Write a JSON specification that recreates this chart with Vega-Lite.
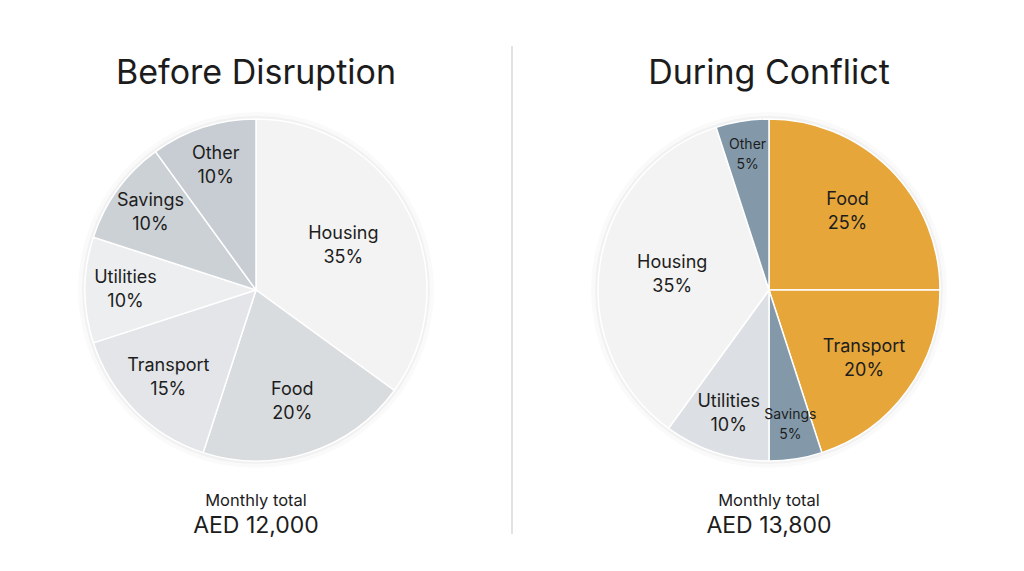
{
  "$schema": "https://vega.github.io/schema/vega-lite/v6.json",
  "background": "#ffffff",
  "padding": {"top": 45, "left": 0, "right": 0, "bottom": 0},
  "spacing": 0,
  "config": {
    "view": {"stroke": null},
    "font": "Inter"
  },
  "resolve": {"scale": {"color": "independent", "theta": "independent", "radius": "independent"}},
  "hconcat": [
    {
      "width": 512,
      "height": 488,
      "data": {"values": [
        {"category": "Housing", "share": 0.35, "rank": 1},
        {"category": "Food", "share": 0.20, "rank": 2},
        {"category": "Transport", "share": 0.15, "rank": 3},
        {"category": "Utilities", "share": 0.10, "rank": 4},
        {"category": "Savings", "share": 0.10, "rank": 5},
        {"category": "Other", "share": 0.10, "rank": 6}
      ]},
      "layer": [
        {
          "data": {"values": [{"total": "AED 12,000"}]},
          "mark": {"type": "arc", "theta": 0, "theta2": 6.2832, "outerRadius": 178, "fill": "#000000", "opacity": 0.02},
          "encoding": {}
        },
        {
          "data": {"values": [{"total": "AED 12,000"}]},
          "mark": {"type": "arc", "theta": 0, "theta2": 6.2832, "outerRadius": 174, "fill": "#000000", "opacity": 0.035},
          "encoding": {}
        },
        {
          "mark": {"type": "arc", "outerRadius": 171, "stroke": "#ffffff", "strokeWidth": 1.5},
          "encoding": {
            "theta": {"field": "share", "type": "quantitative", "stack": true},
            "order": {"field": "rank", "type": "quantitative"},
            "color": {
              "field": "category", "type": "nominal", "legend": null,
              "scale": {
                "domain": ["Housing", "Food", "Transport", "Utilities", "Savings", "Other"],
                "range": ["#f3f3f3", "#d9dcdf", "#e3e5e8", "#eceef0", "#ccd1d6", "#c7cdd3"]
              }
            }
          }
        },
        {
          "mark": {"type": "text", "baseline": "bottom", "dy": -3, "color": "#1d1d1d", "font": "Inter"},
          "encoding": {
            "theta": {"field": "share", "type": "quantitative", "stack": true},
            "order": {"field": "rank", "type": "quantitative"},
            "radius": {"field": "share", "type": "quantitative", "scale": {"type": "linear", "domain": [0.05, 0.35], "range": [137, 98], "zero": false}},
            "text": {"field": "category", "type": "nominal"},
            "size": {"condition": {"test": "datum.share <= 0.05", "value": 14}, "value": 18}
          }
        },
        {
          "mark": {"type": "text", "baseline": "top", "dy": 3, "color": "#1d1d1d", "font": "Inter"},
          "encoding": {
            "theta": {"field": "share", "type": "quantitative", "stack": true},
            "order": {"field": "rank", "type": "quantitative"},
            "radius": {"field": "share", "type": "quantitative", "scale": {"type": "linear", "domain": [0.05, 0.35], "range": [137, 98], "zero": false}},
            "text": {"field": "share", "type": "quantitative", "format": ".0%"},
            "size": {"condition": {"test": "datum.share <= 0.05", "value": 14}, "value": 18}
          }
        },
        {
          "data": {"values": [{"heading": "Before Disruption", "caption": "Monthly total", "total": "AED 12,000"}]},
          "mark": {"type": "text", "dy": -216, "fontSize": 34, "color": "#1c1c1c", "font": "Inter"},
          "encoding": {"text": {"field": "heading"}}
        },
        {
          "data": {"values": [{"heading": "Before Disruption", "caption": "Monthly total", "total": "AED 12,000"}]},
          "mark": {"type": "text", "dy": 211, "fontSize": 16.5, "color": "#1d1d1d", "font": "Inter"},
          "encoding": {"text": {"field": "caption"}}
        },
        {
          "data": {"values": [{"heading": "Before Disruption", "caption": "Monthly total", "total": "AED 12,000"}]},
          "mark": {"type": "text", "dy": 236, "fontSize": 23, "color": "#1d1d1d", "font": "Inter"},
          "encoding": {"text": {"field": "total"}}
        },
        {
          "data": {"values": [{"edge": 1}]},
          "mark": {"type": "rule", "color": "#e2e2e2", "strokeWidth": 2},
          "encoding": {
            "x": {"field": "edge", "type": "quantitative", "scale": {"domain": [0, 1]}, "axis": null}
          }
        }
      ]
    },
    {
      "width": 512,
      "height": 488,
      "data": {"values": [
        {"category": "Food", "share": 0.25, "rank": 1},
        {"category": "Transport", "share": 0.20, "rank": 2},
        {"category": "Savings", "share": 0.05, "rank": 3},
        {"category": "Utilities", "share": 0.10, "rank": 4},
        {"category": "Housing", "share": 0.35, "rank": 5},
        {"category": "Other", "share": 0.05, "rank": 6}
      ]},
      "layer": [
        {
          "data": {"values": [{"total": "AED 13,800"}]},
          "mark": {"type": "arc", "theta": 0, "theta2": 6.2832, "outerRadius": 178, "fill": "#000000", "opacity": 0.02},
          "encoding": {}
        },
        {
          "data": {"values": [{"total": "AED 13,800"}]},
          "mark": {"type": "arc", "theta": 0, "theta2": 6.2832, "outerRadius": 174, "fill": "#000000", "opacity": 0.035},
          "encoding": {}
        },
        {
          "mark": {"type": "arc", "outerRadius": 171, "stroke": "#ffffff", "strokeWidth": 1.5},
          "encoding": {
            "theta": {"field": "share", "type": "quantitative", "stack": true},
            "order": {"field": "rank", "type": "quantitative"},
            "color": {
              "field": "category", "type": "nominal", "legend": null,
              "scale": {
                "domain": ["Food", "Transport", "Savings", "Utilities", "Housing", "Other"],
                "range": ["#e6a63a", "#e6a63a", "#8399aa", "#dcdfe3", "#f3f3f3", "#8399aa"]
              }
            }
          }
        },
        {
          "mark": {"type": "text", "baseline": "bottom", "dy": -3, "color": "#1d1d1d", "font": "Inter"},
          "encoding": {
            "theta": {"field": "share", "type": "quantitative", "stack": true},
            "order": {"field": "rank", "type": "quantitative"},
            "radius": {"field": "share", "type": "quantitative", "scale": {"type": "linear", "domain": [0.05, 0.35], "range": [137, 98], "zero": false}},
            "text": {"field": "category", "type": "nominal"},
            "size": {"condition": {"test": "datum.share <= 0.05", "value": 14}, "value": 18}
          }
        },
        {
          "mark": {"type": "text", "baseline": "top", "dy": 3, "color": "#1d1d1d", "font": "Inter"},
          "encoding": {
            "theta": {"field": "share", "type": "quantitative", "stack": true},
            "order": {"field": "rank", "type": "quantitative"},
            "radius": {"field": "share", "type": "quantitative", "scale": {"type": "linear", "domain": [0.05, 0.35], "range": [137, 98], "zero": false}},
            "text": {"field": "share", "type": "quantitative", "format": ".0%"},
            "size": {"condition": {"test": "datum.share <= 0.05", "value": 14}, "value": 18}
          }
        },
        {
          "data": {"values": [{"heading": "During Conflict", "caption": "Monthly total", "total": "AED 13,800"}]},
          "mark": {"type": "text", "dy": -216, "fontSize": 34, "color": "#1c1c1c", "font": "Inter"},
          "encoding": {"text": {"field": "heading"}}
        },
        {
          "data": {"values": [{"heading": "During Conflict", "caption": "Monthly total", "total": "AED 13,800"}]},
          "mark": {"type": "text", "dy": 211, "fontSize": 16.5, "color": "#1d1d1d", "font": "Inter"},
          "encoding": {"text": {"field": "caption"}}
        },
        {
          "data": {"values": [{"heading": "During Conflict", "caption": "Monthly total", "total": "AED 13,800"}]},
          "mark": {"type": "text", "dy": 236, "fontSize": 23, "color": "#1d1d1d", "font": "Inter"},
          "encoding": {"text": {"field": "total"}}
        }
      ]
    }
  ]
}
